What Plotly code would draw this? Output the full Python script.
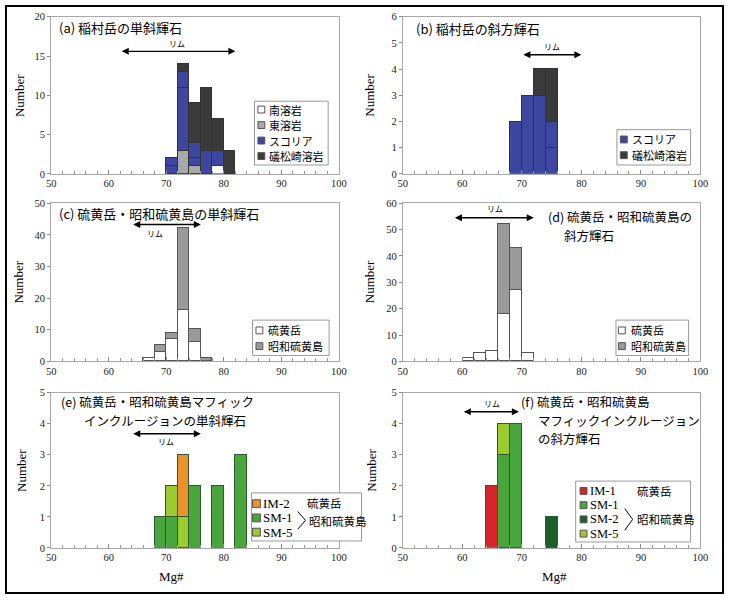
import plotly.graph_objects as go
from plotly.subplots import make_subplots

W, H = 732, 600

# ---------------- data ----------------
bin_width = 2

mg_a = [71, 73, 75, 77, 79, 81]
a_minami = [0, 0, 0, 0, 1, 0]      # 南溶岩
a_higashi = [0, 3, 1, 0, 0, 0]     # 東溶岩
a_scoria1 = [1, 8, 1, 3, 2, 0]     # スコリア
a_scoria2 = [1, 2, 2, 0, 0, 0]     # スコリア (second sample)
a_isomatsu = [0, 1, 5, 8, 4, 3]    # 礒松崎溶岩

mg_b = [69, 71, 73, 75]
b_scoria1 = [2, 3, 3, 1]
b_scoria2 = [0, 0, 0, 1]
b_isomatsu = [0, 0, 1, 2]

mg_c = [67, 69, 71, 73, 75, 77]
c_iodake = [1, 3, 7, 16, 6, 0]     # 硫黄岳
c_showa = [0, 2, 2, 26, 4, 1]      # 昭和硫黄島

mg_d = [61, 63, 65, 67, 69, 71]
d_iodake = [1, 3, 4, 18, 27, 3]
d_showa = [0, 0, 0, 34, 16, 0]

mg_e = [69, 71, 73, 75, 79, 83]
e_sm1 = [1, 1, 0, 2, 2, 3]
e_sm5 = [0, 1, 1, 0, 0, 0]
e_im2 = [0, 0, 2, 0, 0, 0]

mg_f = [65, 67, 69, 75]
f_im1 = [2, 0, 0, 0]
f_sm1 = [0, 3, 4, 0]
f_sm2 = [0, 0, 0, 1]
f_sm5 = [0, 1, 0, 0]

rim_a = [62, 82]
rim_b = [70, 80]
rim_c = [64, 76]
rim_d = [58.5, 72]
rim_e = [64, 76]
rim_f = [60, 69.5]

x_range = [50, 100]
y_max = [20, 6, 50, 60, 5, 5]
y_step = [5, 1, 10, 10, 1, 1]

# ---------------- styles ----------------
C_WHITE = "#ffffff"
C_GRAY_A = "#a9a9a9"
C_BLUE = "#3e47a0"
C_BLACK = "#3a3a3a"
C_GRAY_C = "#9a9a9a"
C_ORANGE = "#eb922c"
C_GREEN = "#48a63d"
C_LGREEN = "#9ccb30"
C_DGREEN = "#1d5e2b"
C_RED = "#d3252a"

SERIF = "Liberation Serif, Times New Roman, serif"
SANS = "Noto Sans CJK JP, Noto Sans, sans-serif"


def px(x):
    return x / W


def py(y):
    return 1 - y / H


fig = make_subplots(rows=3, cols=2)


def bar(x, y, name, color, row, col, line="#333333"):
    fig.add_trace(go.Bar(x=x, y=y, name=name, width=bin_width,
                         marker=dict(color=color, line=dict(color=line, width=1)),
                         showlegend=False), row=row, col=col)


# (a)
bar(mg_a, a_minami, "南溶岩", C_WHITE, 1, 1, "#666666")
bar(mg_a, a_higashi, "東溶岩", C_GRAY_A, 1, 1)
bar(mg_a, a_scoria1, "スコリア", C_BLUE, 1, 1)
bar(mg_a, a_scoria2, "スコリア", C_BLUE, 1, 1)
bar(mg_a, a_isomatsu, "礒松崎溶岩", C_BLACK, 1, 1)
# (b)
bar(mg_b, b_scoria1, "スコリア", C_BLUE, 1, 2)
bar(mg_b, b_scoria2, "スコリア", C_BLUE, 1, 2)
bar(mg_b, b_isomatsu, "礒松崎溶岩", C_BLACK, 1, 2)
# (c)
bar(mg_c, c_iodake, "硫黄岳", C_WHITE, 2, 1, "#555555")
bar(mg_c, c_showa, "昭和硫黄島", C_GRAY_C, 2, 1, "#555555")
# (d)
bar(mg_d, d_iodake, "硫黄岳", C_WHITE, 2, 2, "#555555")
bar(mg_d, d_showa, "昭和硫黄島", C_GRAY_C, 2, 2, "#555555")
# (e)
bar(mg_e, e_sm1, "SM-1", C_GREEN, 3, 1, "#2e5a2e")
bar(mg_e, e_sm5, "SM-5", C_LGREEN, 3, 1, "#2e5a2e")
bar(mg_e, e_im2, "IM-2", C_ORANGE, 3, 1, "#2e5a2e")
# (f)
bar(mg_f, f_im1, "IM-1", C_RED, 3, 2, "#2e5a2e")
bar(mg_f, f_sm1, "SM-1", C_GREEN, 3, 2, "#2e5a2e")
bar(mg_f, f_sm2, "SM-2", C_DGREEN, 3, 2, "#2e5a2e")
bar(mg_f, f_sm5, "SM-5", C_LGREEN, 3, 2, "#2e5a2e")

# ---------------- axes ----------------
col_x = {1: [47, 340], 2: [405, 708]}
row_y = {1: [12, 172], 2: [202, 363], 3: [395, 553]}

layout_axes = {}
k = 0
for r in (1, 2, 3):
    for c in (1, 2):
        k += 1
        sfx = "" if k == 1 else str(k)
        layout_axes["xaxis" + sfx] = dict(
            domain=[px(col_x[c][0]), px(col_x[c][1])],
            range=x_range, tick0=50, dtick=10,
            ticks="inside", ticklen=4, tickcolor="#888888",
            minor=dict(dtick=2, tick0=50, ticks="inside", ticklen=3,
                       tickcolor="#999999", showgrid=False),
            showline=True, mirror=True, linecolor="#a8a8a8", linewidth=1,
            showgrid=False, zeroline=False,
            tickfont=dict(family=SERIF, size=10.5, color="#222222"),
        )
        layout_axes["yaxis" + sfx] = dict(
            domain=[py(row_y[r][1]), py(row_y[r][0])],
            range=[0, y_max[k - 1]], dtick=y_step[k - 1],
            ticks="outside", ticklen=3, tickcolor="#888888",
            showline=True, mirror=True, linecolor="#a8a8a8", linewidth=1,
            showgrid=False, zeroline=False,
            tickfont=dict(family=SERIF, size=10.5, color="#222222"),
        )

fig.update_layout(**layout_axes)

annotations = []
shapes = []


def ann(x, y, text, size=13, family=SANS, xanchor="left", angle=0,
        yanchor="middle", color="black"):
    annotations.append(dict(x=px(x), y=py(y), xref="paper", yref="paper",
                            text=text, showarrow=False, xanchor=xanchor,
                            yanchor=yanchor, textangle=angle, align="left",
                            font=dict(family=family, size=size, color=color)))


# panel titles
ann(53, 23, "(a) 稲村岳の単斜輝石")
ann(416, 24, "(b) 稲村岳の斜方輝石")
ann(53, 212, "(c) 硫黄岳・昭和硫黄島の単斜輝石")
ann(551, 215.5, "(d) 硫黄岳・昭和硫黄島の", size=12.5)
ann(567, 235, "斜方輝石", size=12.5)
ann(55, 404, "(e) 硫黄岳・昭和硫黄島マフィック", size=12.5)
ann(78, 423, "インクルージョンの単斜輝石", size=12.5)
ann(523, 404, "(f) 硫黄岳・昭和硫黄島", size=12.5)
ann(541, 423, "マフィックインクルージョン", size=12.5)
ann(541, 442, "の斜方輝石", size=12.5)

# axis titles
for (x, y) in [(15, 92), (371, 92), (14, 282), (371, 282), (17, 474), (373, 474)]:
    ann(x, y, "Number", size=13, family=SERIF, xanchor="center", angle=-90)
ann(170, 582, "Mg#", size=13, family=SERIF, xanchor="center")
ann(559, 582, "Mg#", size=13, family=SERIF, xanchor="center")

# rim arrows (data coordinates)
rims = [(rim_a, 15.6, 71.9, 16.6, "", ""),
        (rim_b, 4.55, 75.0, 4.85, "2", "2"),
        (rim_c, 43.3, 68.0, 40.6, "3", "3"),
        (rim_d, 54.5, 65.5, 57.9, "4", "4"),
        (rim_e, 3.68, 70.0, 3.42, "5", "5"),
        (rim_f, 4.39, 65.0, 4.66, "6", "6")]
for rim, ry, lx, ly, xs, ys in rims:
    annotations.append(dict(x=rim[1], y=ry, ax=rim[0], ay=ry,
                            xref="x" + xs, yref="y" + ys,
                            axref="x" + xs, ayref="y" + ys,
                            text="", showarrow=True, arrowhead=2, arrowsize=1,
                            arrowwidth=1.4, arrowcolor="black",
                            arrowside="end+start", startarrowhead=2,
                            startarrowsize=1, standoff=0, startstandoff=0))
    annotations.append(dict(x=lx, y=ly, xref="x" + xs, yref="y" + ys,
                            text="リム", showarrow=False,
                            font=dict(family=SANS, size=8, color="black")))


# manual legends
def legend(box, rows, sym_x, text_x, sym=7):
    x0, y0, x1, y1 = box
    shapes.append(dict(type="rect", xref="paper", yref="paper",
                       x0=px(x0), x1=px(x1), y0=py(y1), y1=py(y0),
                       line=dict(color="#9a9a9a", width=1), fillcolor="white",
                       layer="above"))
    for (yy, color, label, family, size) in rows:
        shapes.append(dict(type="rect", xref="paper", yref="paper",
                           x0=px(sym_x - sym / 2), x1=px(sym_x + sym / 2),
                           y0=py(yy + sym / 2), y1=py(yy - sym / 2),
                           line=dict(color="#555555", width=1), fillcolor=color,
                           layer="above"))
        ann(text_x, yy, label, size=size, family=family)


legend((254, 98, 329, 163),
       [(106.5, C_WHITE, "南溶岩", SANS, 10.9),
        (122.3, C_GRAY_A, "東溶岩", SANS, 10.9),
        (138.1, C_BLUE, "スコリア", SANS, 10.9),
        (153.9, C_BLACK, "礒松崎溶岩", SANS, 10.9)], 261, 267)
legend((623, 127, 698, 163),
       [(137, C_BLUE, "スコリア", SANS, 11),
        (153, C_BLACK, "礒松崎溶岩", SANS, 11)], 630, 636)
legend((252, 321, 330, 357),
       [(331.5, C_WHITE, "硫黄岳", SANS, 11),
        (347.5, C_GRAY_C, "昭和硫黄島", SANS, 11)], 259, 266)
legend((622, 321, 696, 357),
       [(331.5, C_WHITE, "硫黄岳", SANS, 11),
        (347.5, C_GRAY_C, "昭和硫黄島", SANS, 11)], 628, 635)
legend((251, 497, 363, 546),
       [(508, C_ORANGE, "IM-2", SERIF, 13),
        (522.5, C_GREEN, "SM-1", SERIF, 13),
        (537, C_LGREEN, "SM-5", SERIF, 13)], 256, 261, sym=8)
ann(305, 507, "硫黄岳", size=11.5)
shapes.append(dict(type="path", xref="paper", yref="paper",
                   path=f"M {px(298)},{py(516)} L {px(306)},{py(525)} L {px(298)},{py(534)}",
                   line=dict(color="black", width=1)))
ann(307, 526, "昭和硫黄島", size=11.5)

legend((581, 485, 698, 547),
       [(495, C_RED, "IM-1", SERIF, 12.5),
        (509.5, C_GREEN, "SM-1", SERIF, 12.5),
        (524, C_DGREEN, "SM-2", SERIF, 12.5),
        (538.5, C_LGREEN, "SM-5", SERIF, 12.5)], 589, 594)
ann(641, 495, "硫黄岳", size=11.5)
shapes.append(dict(type="path", xref="paper", yref="paper",
                   path=f"M {px(631)},{py(513)} L {px(639)},{py(524)} L {px(631)},{py(535)}",
                   line=dict(color="black", width=1)))
ann(641, 524, "昭和硫黄島", size=11.5)

# outer frame
shapes.append(dict(type="rect", xref="paper", yref="paper",
                   x0=px(1), x1=px(731), y0=py(599), y1=py(1),
                   line=dict(color="black", width=2), layer="above"))

fig.update_layout(
    width=W, height=H, margin=dict(l=0, r=0, t=0, b=0),
    paper_bgcolor="white", plot_bgcolor="white",
    barmode="stack", bargap=0, showlegend=False,
    annotations=annotations, shapes=shapes,
)

fig.write_html(
    "out.html",
    config={"displayModeBar": False},
    post_script="document.body.style.margin='0';document.body.style.padding='0';"
                "document.body.style.overflow='hidden';",
)
